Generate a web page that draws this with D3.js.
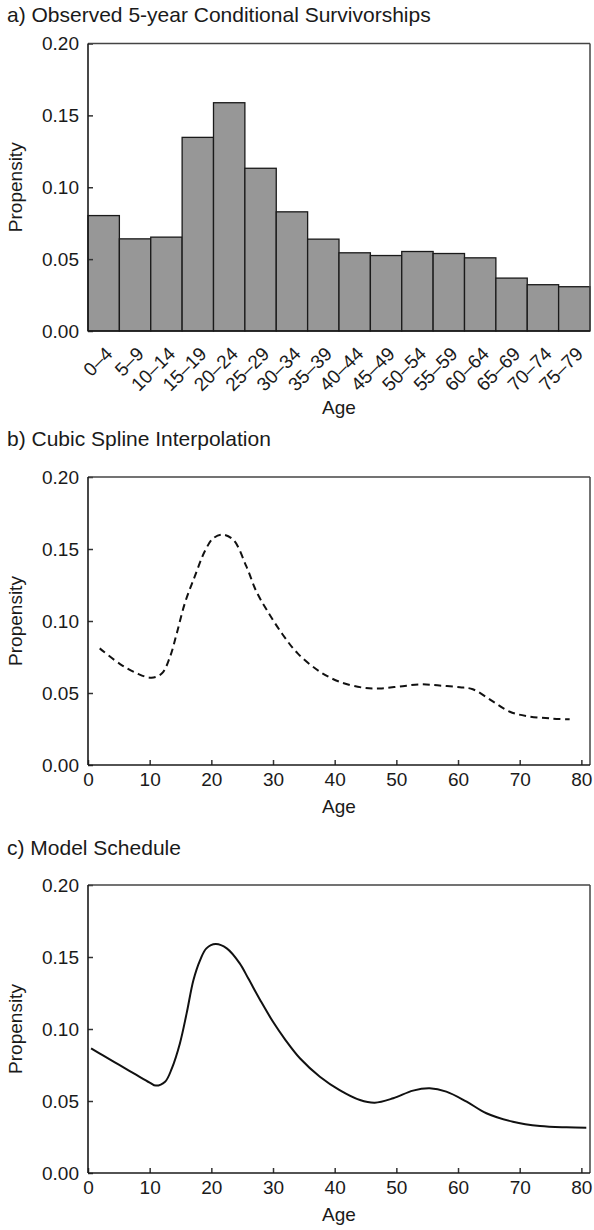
<!DOCTYPE html>
<html>
<head>
<meta charset="utf-8">
<script src="https://cdn.jsdelivr.net/npm/d3@7"></script>
<style>
  body { margin: 0; background: #fff; }
  svg text { font-family: "Liberation Sans", Arial, Helvetica, sans-serif; fill: #1a1a1a; }
</style>
</head>
<body>
<svg id="chart" width="594" height="1230"></svg>
<script>
// age groups and observed propensities (panel a)
var ageGroups = ['0\u20134', '5\u20139', '10\u201314', '15\u201319', '20\u201324', '25\u201329', '30\u201334', '35\u201339',
    '40\u201344', '45\u201349', '50\u201354', '55\u201359', '60\u201364', '65\u201369', '70\u201374', '75\u201379']
var observed = [0.0803, 0.0641, 0.0653, 0.1347, 0.1588, 0.1132, 0.0829, 0.0639,
    0.0544, 0.0525, 0.0553, 0.0539, 0.0509, 0.0368, 0.0322, 0.0308]

// cubic spline curve
var splineAges = [1.9, 5.2, 7.9, 10.3, 12.0, 13.3, 14.4, 15.7, 17.3, 19.0, 20.3, 21.8, 23.6, 25.7, 27.3, 29.0,
    31.5, 34.0, 37.6, 40.8, 44.6, 47.3, 50.5, 53.8, 57.0, 60.3, 62.4, 65.7, 68.4, 71.1, 75.4, 78.1]
var splineValues = [0.0810, 0.0701, 0.0637, 0.0606, 0.0637, 0.0752, 0.0915, 0.1123, 0.1308, 0.1490, 0.1574, 0.1600,
    0.1562, 0.1377, 0.1205, 0.1076, 0.0910, 0.0775, 0.0648, 0.0578, 0.0537, 0.0532, 0.0545, 0.0560, 0.0552, 0.0540,
    0.0526, 0.0440, 0.0370, 0.0340, 0.0322, 0.0317]

// model schedule curve
var modelAges = [0.5, 2.5, 5, 7.5, 10, 11, 12.5, 13.6, 14.9, 16.0, 17.1, 18.2, 19.2, 20.7, 22.5, 24.6, 26, 28, 30,
    32, 34.4, 37.6, 40.8, 44.1, 46.5, 49.5, 52.7, 55.4, 58.1, 61.4, 64.6, 68.9, 73.3, 77.6, 80.8]
var modelValues = [0.0866, 0.0815, 0.0752, 0.0690, 0.0628, 0.0607, 0.0634, 0.0727, 0.0900, 0.1110, 0.1340, 0.1480,
    0.1560, 0.1590, 0.1560, 0.1456, 0.1350, 0.1195, 0.1050, 0.0925, 0.0795, 0.0669, 0.0576, 0.0507, 0.0488, 0.0519,
    0.0572, 0.0588, 0.0565, 0.0495, 0.0415, 0.0356, 0.0326, 0.0317, 0.0315]

var yTicks = [0, 0.05, 0.10, 0.15, 0.20]
var xTicks = [0, 10, 20, 30, 40, 50, 60, 70, 80]
var titles = ['a) Observed 5-year Conditional Survivorships', 'b) Cubic Spline Interpolation', 'c) Model Schedule']

var svg = d3.select('#chart')
var left = 88, right = 590
var panels = [
    { top: 43.5, bottom: 331, titleY: 22, labelY: 414 },
    { top: 477, bottom: 765, titleY: 446, labelY: 813 },
    { top: 885, bottom: 1173, titleY: 855, labelY: 1221 }
]

var fmt = d3.format('.2f')

function drawFrame(g, p, y) {
    // y axis with inward ticks
    var ax = g.append('g').attr('transform', 'translate(' + left + ',0)')
        .call(d3.axisLeft(y).tickValues(yTicks).tickFormat(fmt).tickSizeInner(-5).tickSizeOuter(0).tickPadding(9))
    ax.select('.domain').remove()
    ax.selectAll('line').attr('stroke', '#333').attr('stroke-width', 1.5)
    ax.selectAll('text').style('font-size', '19px').attr('fill', '#1a1a1a')

    // box
    g.append('line').attr('x1', left).attr('x2', right).attr('y1', p.top).attr('y2', p.top).attr('stroke', '#444').attr('stroke-width', 1.5)
    g.append('line').attr('x1', right).attr('x2', right).attr('y1', p.top).attr('y2', p.bottom).attr('stroke', '#444').attr('stroke-width', 1.5)
    g.append('line').attr('x1', left).attr('x2', left).attr('y1', p.top).attr('y2', p.bottom).attr('stroke', '#1a1a1a').attr('stroke-width', 1.6)
    g.append('line').attr('x1', left).attr('x2', right).attr('y1', p.bottom).attr('y2', p.bottom).attr('stroke', '#1a1a1a').attr('stroke-width', 1.6)

    g.append('text').attr('transform', 'translate(22,' + ((p.top + p.bottom) / 2) + ') rotate(-90)')
        .attr('text-anchor', 'middle').style('font-size', '19px').text('Propensity')
    g.append('text').attr('x', (left + right) / 2).attr('y', p.labelY)
        .attr('text-anchor', 'middle').style('font-size', '19px').text('Age')
}

panels.forEach(function (p, i) {
    svg.append('text').attr('x', 7).attr('y', p.titleY).style('font-size', '21px').text(titles[i])
})

// panel a: bars
var pa = panels[0]
var ga = svg.append('g')
var xa = d3.scaleBand().domain(ageGroups).range([left, right]).padding(0)
var ya = d3.scaleLinear().domain([0, 0.2]).range([pa.bottom, pa.top])

ga.selectAll('rect.bar').data(observed).enter().append('rect')
    .attr('class', 'bar')
    .attr('x', function (d, i) { return xa(ageGroups[i]) })
    .attr('width', xa.bandwidth())
    .attr('y', function (d) { return ya(d) })
    .attr('height', function (d) { return ya(0) - ya(d) })
    .attr('fill', '#979797').attr('stroke', '#1a1a1a').attr('stroke-width', 1.3)

drawFrame(ga, pa, ya)

ga.selectAll('text.cat').data(ageGroups).enter().append('text')
    .attr('class', 'cat')
    .attr('transform', function (d) { return 'translate(' + (xa(d) + xa.bandwidth() / 2 + 10) + ',' + (pa.bottom + 24) + ') rotate(-45)' })
    .attr('text-anchor', 'end').style('font-size', '19px').text(function (d) { return d })

// panels b and c: curves
function curvePanel(p, ages, values, dashed) {
    var g = svg.append('g')
    var x = d3.scaleLinear().domain([0, 81.4]).range([left, right])
    var y = d3.scaleLinear().domain([0, 0.2]).range([p.bottom, p.top])

    var pts = ages.map(function (a, i) { return [a, values[i]] })
    var line = d3.line().x(function (d) { return x(d[0]) }).y(function (d) { return y(d[1]) })
        .curve(d3.curveCatmullRom.alpha(0.5))
    g.append('path').datum(pts).attr('d', line).attr('fill', 'none')
        .attr('stroke', '#111').attr('stroke-width', 2)
        .attr('stroke-dasharray', dashed ? '7,4.5' : null)

    var ax = g.append('g').attr('transform', 'translate(0,' + p.bottom + ')')
        .call(d3.axisBottom(x).tickValues(xTicks).tickSizeInner(-5).tickSizeOuter(0).tickPadding(8))
    ax.select('.domain').remove()
    ax.selectAll('line').attr('stroke', '#333').attr('stroke-width', 1.5)
    ax.selectAll('text').style('font-size', '19px').attr('fill', '#1a1a1a')

    drawFrame(g, p, y)
}

curvePanel(panels[1], splineAges, splineValues, true)
curvePanel(panels[2], modelAges, modelValues, false)
</script>
</body>
</html>
